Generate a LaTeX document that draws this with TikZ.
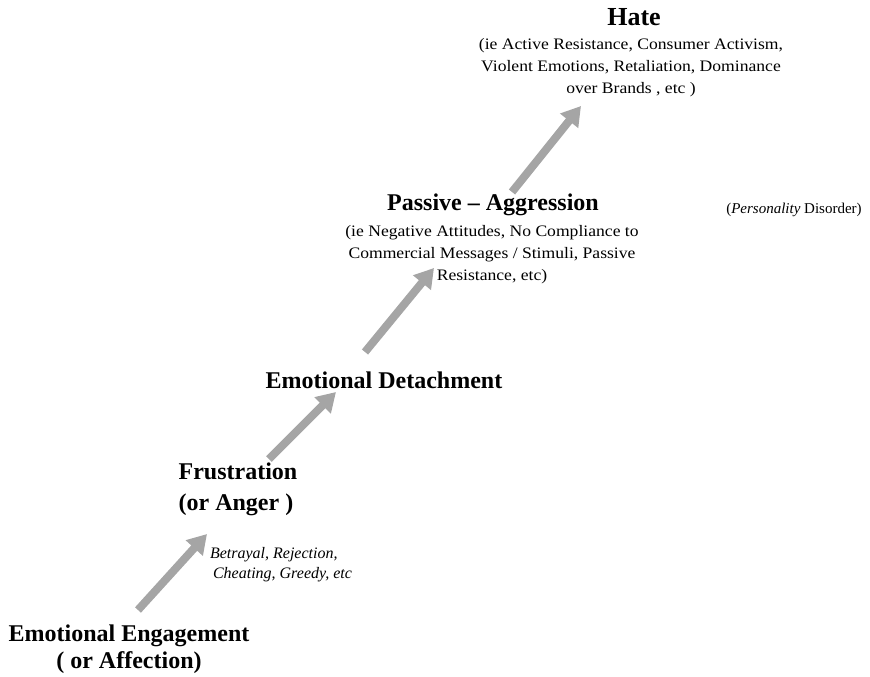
\documentclass[tikz,border=0pt]{standalone}
\usepackage{fontspec}
\setmainfont{Liberation Serif}
\newfontfamily\widefont[FakeStretch=1.1]{Liberation Serif}
\usetikzlibrary{arrows.meta}
\definecolor{arrowgray}{RGB}{165,165,165}
\tikzset{
  head/.style={font=\fontsize{24}{28}\selectfont\bfseries, inner sep=0pt, align=center},
  sub/.style={font=\widefont\fontsize{16}{22}\selectfont, inner sep=0pt, align=center},
  note/.style={font=\fontsize{16}{20}\selectfont\itshape, inner sep=0pt, align=left},
  up/.style={draw=arrowgray, line width=8pt, -{Triangle[width=22pt,length=19pt]}}
}
\begin{document}
\begin{tikzpicture}[x=1pt,y=-1pt]
\useasboundingbox (0,0) rectangle (870,677);
\node[head, font=\fontsize{26}{28}\selectfont\bfseries] (hate) at (634,17) {Hate};
\node[sub] (hatesub) at (631,68) {(ie Active Resistance, Consumer Activism,\\Violent Emotions, Retaliation, Dominance\\over Brands , etc )};
\node[head] (pa) at (493,205) {Passive -- Aggression};
\node[sub] (pasub) at (492,255) {(ie Negative Attitudes, No Compliance to\\Commercial Messages / Stimuli, Passive\\Resistance, etc)};
\node[font=\fontsize{15}{17}\selectfont, inner sep=0pt] (pd) at (794,210) {(\textit{Personality} Disorder)};
\node[head] (ed) at (384,380) {Emotional Detachment};
\node[head, align=left, font=\fontsize{24}{31}\selectfont\bfseries] (fr) at (238,489) {Frustration\\(or Anger )};
\node[note] (betr) at (281,565) {Betrayal, Rejection,\\\hspace*{3pt}Cheating, Greedy, etc};
\node[head, font=\fontsize{24}{27}\selectfont\bfseries] (ee) at (129,649) {Emotional Engagement\\( or Affection)};
\coordinate (a1s) at (138,610); \coordinate (a1e) at (207,534);
\coordinate (a2s) at (269,459); \coordinate (a2e) at (336,392);
\coordinate (a3s) at (365,352); \coordinate (a3e) at (434,268);
\coordinate (a4s) at (512,192); \coordinate (a4e) at (581,106);
\draw[up] (a1s) -- (a1e);
\draw[up] (a2s) -- (a2e);
\draw[up] (a3s) -- (a3e);
\draw[up] (a4s) -- (a4e);
\end{tikzpicture}
\end{document}
